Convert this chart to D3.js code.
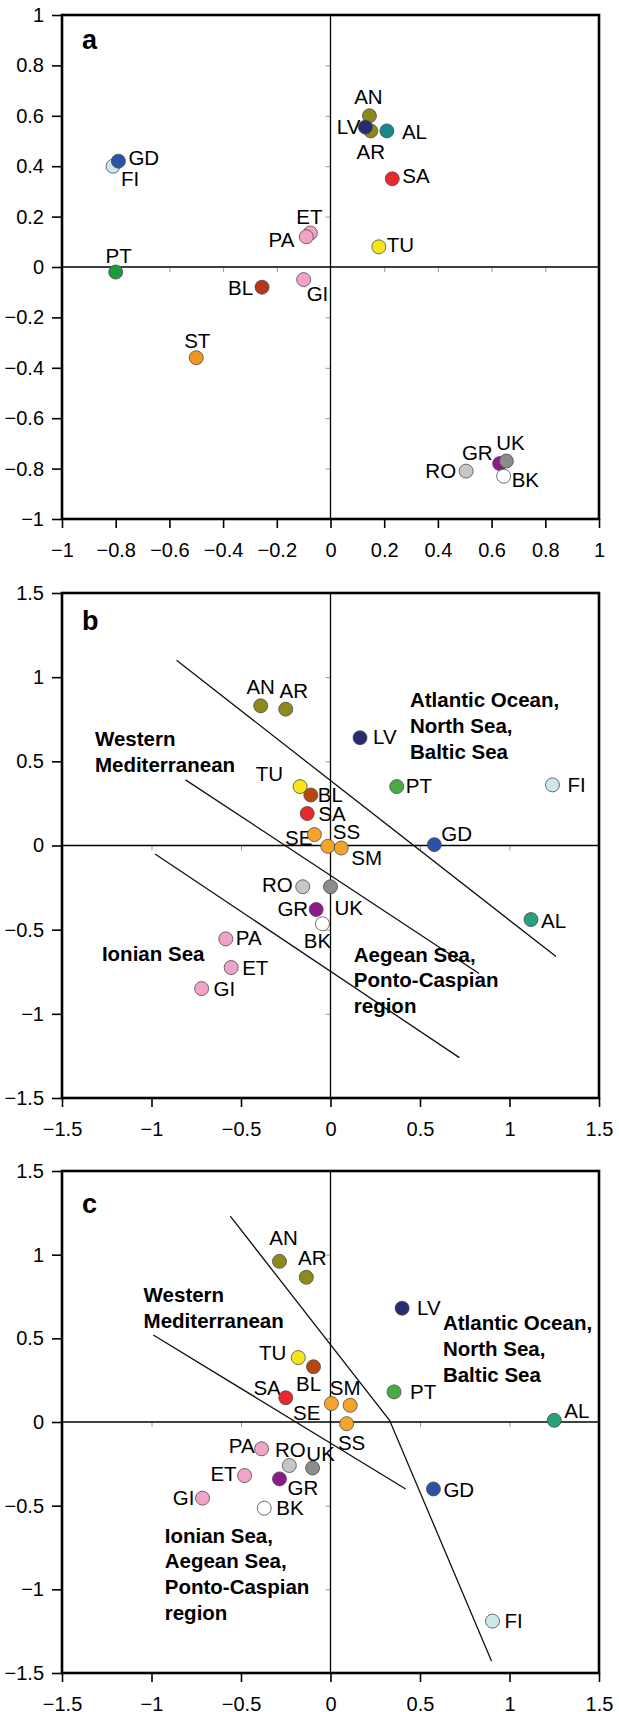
<!DOCTYPE html>
<html>
<head>
<meta charset="utf-8">
<script src="https://cdn.jsdelivr.net/npm/d3@7"></script>
<style>
  html, body { margin: 0; padding: 0; background: #fff; }
  svg { display: block; font-family: "Liberation Sans", Arial, Helvetica, sans-serif; }
</style>
</head>
<body>
<svg id="chart" width="619" height="1712"></svg>
<script>
// ---------- Panel a ----------
const codesA = ["FI", "GD", "PT", "BL", "GI", "ET", "PA", "ST", "AN", "AR", "LV", "AL", "SA", "TU", "RO", "GR", "UK", "BK"];
const xA = [-0.81, -0.79, -0.80, -0.255, -0.10, -0.075, -0.09, -0.50, 0.145, 0.15, 0.13, 0.21, 0.23, 0.18, 0.505, 0.63, 0.655, 0.645];
const yA = [0.40, 0.42, -0.02, -0.08, -0.05, 0.135, 0.12, -0.36, 0.60, 0.54, 0.555, 0.54, 0.35, 0.08, -0.81, -0.78, -0.77, -0.83];
const ticksA = [-1, -0.8, -0.6, -0.4, -0.2, 0, 0.2, 0.4, 0.6, 0.8, 1];

// ---------- Panel b ----------
const codesB = ["AN", "AR", "LV", "TU", "BL", "SA", "PT", "FI", "GD", "SE", "SS", "SM", "RO", "UK", "GR", "BK", "AL", "PA", "ET", "GI"];
const xB = [-0.39, -0.25, 0.165, -0.17, -0.11, -0.13, 0.37, 1.24, 0.58, -0.09, -0.015, 0.06, -0.155, 0.0, -0.08, -0.045, 1.12, -0.585, -0.555, -0.72];
const yB = [0.83, 0.81, 0.64, 0.35, 0.30, 0.19, 0.35, 0.36, 0.005, 0.065, -0.005, -0.015, -0.245, -0.245, -0.38, -0.465, -0.44, -0.555, -0.725, -0.85];
const boundaryB1 = [[-0.86, 1.10], [1.26, -0.66]];
const boundaryB2 = [[-0.81, 0.39], [0.83, -0.76]];
const boundaryB3 = [[-0.98, -0.05], [0.72, -1.26]];
const regionsB = [["Atlantic Ocean,", "North Sea,", "Baltic Sea"], ["Western", "Mediterranean"], ["Ionian Sea"], ["Aegean Sea,", "Ponto-Caspian", "region"]];

// ---------- Panel c ----------
const codesC = ["AN", "AR", "LV", "TU", "BL", "SA", "SE", "SM", "PT", "AL", "SS", "PA", "RO", "UK", "ET", "GR", "GI", "BK", "GD", "FI"];
const xC = [-0.285, -0.135, 0.40, -0.18, -0.095, -0.25, 0.005, 0.11, 0.355, 1.25, 0.09, -0.385, -0.23, -0.10, -0.48, -0.285, -0.715, -0.37, 0.575, 0.905];
const yC = [0.96, 0.865, 0.68, 0.385, 0.33, 0.145, 0.11, 0.10, 0.18, 0.01, -0.01, -0.16, -0.26, -0.275, -0.32, -0.34, -0.455, -0.515, -0.40, -1.19];
const boundaryC1 = [[-0.56, 1.23], [0.33, 0.01], [0.90, -1.43]];
const boundaryC2 = [[-0.99, 0.52], [0.42, -0.40]];
const regionsC = [["Western", "Mediterranean"], ["Atlantic Ocean,", "North Sea,", "Baltic Sea"], ["Ionian Sea,", "Aegean Sea,", "Ponto-Caspian", "region"]];

const ticksBC = [-1.5, -1, -0.5, 0, 0.5, 1, 1.5];

// ---------- styling ----------
const baseColors = {
  AN: "#8c8a1c", AR: "#8c8a1c", LV: "#272b70", AL: "#28a07a", SA: "#e8282a",
  GD: "#2c52a8", FI: "#cbe7ea", PT: "#46ad46", ET: "#f2a3c9", PA: "#f2a3c9",
  GI: "#f2a3c9", TU: "#f4e619", BL: "#b5470f", ST: "#f0961e", SE: "#f4a42a",
  SS: "#f4a42a", SM: "#f4a42a", RO: "#c6c6c6", GR: "#8c1a8c", UK: "#8c8c8c", BK: "#ffffff"
};
const colorsA = Object.assign({}, baseColors, { AL: "#17898c", PT: "#1d9c3f", BL: "#b8361a" });

// label placement relative to the marker centre: [dx, dy (baseline), anchor]
const labelPosA = {
  FI: [8, 20, "start"], GD: [10, 4, "start"], PT: [3, -9, "middle"], BL: [-9, 8, "end"],
  GI: [3, 21, "start"], ET: [-1, -9, "middle"], PA: [-12, 10, "end"], ST: [1, -10, "middle"],
  AN: [-1, -12, "middle"], AR: [0, 28, "middle"], LV: [-5, 7, "end"], AL: [15, 8, "start"],
  SA: [10, 4, "start"], TU: [8, 5, "start"], RO: [-10, 7, "end"], GR: [-7, -4, "end"],
  UK: [4, -11, "middle"], BK: [8, 11, "start"]
};
const labelPosB = {
  AN: [0, -12, "middle"], AR: [8, -11, "middle"], LV: [13, 6, "start"], TU: [-17, -6, "end"],
  BL: [7, 7, "start"], SA: [11, 7, "start"], PT: [9, 6, "start"], FI: [15, 7, "start"],
  GD: [7, -4, "start"], SE: [-2, 10, "end"], SS: [5, -7, "start"], SM: [10, 17, "start"],
  RO: [-10, 5, "end"], UK: [4, 28, "start"], GR: [-8, 7, "end"], BK: [-5, 24, "middle"],
  AL: [10, 8, "start"], PA: [10, 6, "start"], ET: [11, 7, "start"], GI: [12, 7, "start"]
};
const labelPosC = {
  AN: [4, -16, "middle"], AR: [6, -12, "middle"], LV: [15, 7, "start"], TU: [-12, 2, "end"],
  BL: [-5, 24, "middle"], SA: [-5, -3, "end"], SM: [-5, -10, "middle"], SE: [-11, 16, "end"],
  PT: [16, 7, "start"], AL: [10, -2, "start"], SS: [5, 26, "middle"], PA: [-7, 4, "end"],
  RO: [1, -9, "middle"], UK: [8, -7, "middle"], ET: [-8, 5, "end"], GR: [8, 16, "start"],
  GI: [-8, 7, "end"], BK: [12, 7, "start"], GD: [10, 8, "start"], FI: [12, 7, "start"]
};
// region captions: anchor of first line in data units, and line spacing in px
const regionPosB = [[0.444, 0.825, 26], [-1.316, 0.593, 26], [-1.277, -0.684, 26], [0.130, -0.69, 25.5]];
const regionPosC = [[-1.044, 0.715, 26], [0.628, 0.55, 26], [-0.926, -0.721, 25.7]];

const svg = d3.select("#chart");
const LEFT = 62, RIGHT = 599;
const R = 7;

const fmt = v => v === 0 ? "0" : (v < 0 ? "\u2212" : "") + String(+Math.abs(v).toFixed(2));

function drawPanel(cfg) {
  const g = svg.append("g");
  const x = d3.scaleLinear().domain(cfg.domain).range([LEFT, RIGHT]);
  const y = d3.scaleLinear().domain(cfg.domain).range([cfg.bottom, cfg.top]);

  // outer axes
  const ax = g.append("g").attr("transform", `translate(0,${cfg.bottom})`)
    .call(d3.axisBottom(x).tickValues(cfg.ticks).tickFormat(fmt).tickSize(9).tickPadding(15));
  const ay = g.append("g").attr("transform", `translate(${LEFT},0)`)
    .call(d3.axisLeft(y).tickValues(cfg.ticks).tickFormat(fmt).tickSize(10).tickPadding(8));
  [ax, ay].forEach(a => {
    a.select(".domain").remove();
    a.selectAll(".tick line").attr("stroke", "#000").attr("stroke-width", 1.6);
    a.selectAll(".tick text").attr("fill", "#000").style("font-size", "20px")
      .style("font-family", "'Liberation Sans', Arial, sans-serif");
  });

  // zero lines with small inner ticks
  const inner = cfg.ticks.filter(t => t !== 0 && t !== cfg.domain[0] && t !== cfg.domain[1]);
  const zx = g.append("g").attr("transform", `translate(0,${y(0)})`)
    .call(d3.axisBottom(x).tickValues(inner).tickFormat("").tickSize(5));
  const zy = g.append("g").attr("transform", `translate(${x(0)},0)`)
    .call(d3.axisLeft(y).tickValues(inner).tickFormat("").tickSize(5));
  [zx, zy].forEach(a => {
    a.select(".domain").remove();
    a.selectAll(".tick line").attr("stroke", "#9a9a9a").attr("stroke-width", 1);
  });
  g.append("line").attr("x1", x(cfg.domain[0])).attr("x2", x(cfg.domain[1]))
    .attr("y1", y(0)).attr("y2", y(0)).attr("stroke", "#000").attr("stroke-width", 1.3);
  g.append("line").attr("x1", x(0)).attr("x2", x(0))
    .attr("y1", y(cfg.domain[0])).attr("y2", y(cfg.domain[1])).attr("stroke", "#000").attr("stroke-width", 1.3);

  // boundary lines
  const line = d3.line().x(d => x(d[0])).y(d => y(d[1]));
  (cfg.boundaries || []).forEach(b => {
    g.append("path").attr("d", line(b)).attr("fill", "none")
      .attr("stroke", "#111").attr("stroke-width", 1.3);
  });

  // region captions
  (cfg.regions || []).forEach((lines, i) => {
    const [rx, ry, lh] = cfg.regionPos[i];
    const t = g.append("text").attr("x", x(rx)).attr("y", y(ry))
      .style("font-size", "20.5px").style("font-weight", "bold").attr("fill", "#000");
    lines.forEach((s, j) => t.append("tspan").attr("x", x(rx)).attr("dy", j === 0 ? 0 : lh).text(s));
  });

  const pts = cfg.codes.map((c, i) => ({ code: c, x: cfg.xs[i], y: cfg.ys[i] }));

  // point labels
  g.append("g").selectAll("text").data(pts).join("text")
    .attr("x", d => x(d.x) + cfg.labelPos[d.code][0])
    .attr("y", d => y(d.y) + cfg.labelPos[d.code][1])
    .attr("text-anchor", d => cfg.labelPos[d.code][2])
    .style("font-size", "20.5px").attr("fill", "#000")
    .text(d => d.code);

  // markers
  g.append("g").selectAll("circle").data(pts).join("circle")
    .attr("cx", d => x(d.x)).attr("cy", d => y(d.y)).attr("r", R)
    .attr("fill", d => cfg.colors[d.code])
    .attr("stroke", "#4a4a4a").attr("stroke-width", 0.8);

  // frame
  g.append("rect").attr("x", LEFT).attr("y", cfg.top)
    .attr("width", RIGHT - LEFT).attr("height", cfg.bottom - cfg.top)
    .attr("fill", "none").attr("stroke", "#000").attr("stroke-width", 2.6);

  // panel letter
  g.append("text").attr("x", LEFT + 20).attr("y", cfg.top + cfg.letterDy)
    .style("font-size", "27px").style("font-weight", "bold").text(cfg.letter);
}

drawPanel({
  letter: "a", letterDy: 34, top: 15, bottom: 519, domain: [-1, 1], ticks: ticksA,
  codes: codesA, xs: xA, ys: yA, colors: colorsA, labelPos: labelPosA
});
drawPanel({
  letter: "b", letterDy: 37, top: 593, bottom: 1098, domain: [-1.5, 1.5], ticks: ticksBC,
  codes: codesB, xs: xB, ys: yB, colors: baseColors, labelPos: labelPosB,
  boundaries: [boundaryB1, boundaryB2, boundaryB3], regions: regionsB, regionPos: regionPosB
});
drawPanel({
  letter: "c", letterDy: 42, top: 1171, bottom: 1673, domain: [-1.5, 1.5], ticks: ticksBC,
  codes: codesC, xs: xC, ys: yC, colors: baseColors, labelPos: labelPosC,
  boundaries: [boundaryC1, boundaryC2], regions: regionsC, regionPos: regionPosC
});
</script>
</body>
</html>
